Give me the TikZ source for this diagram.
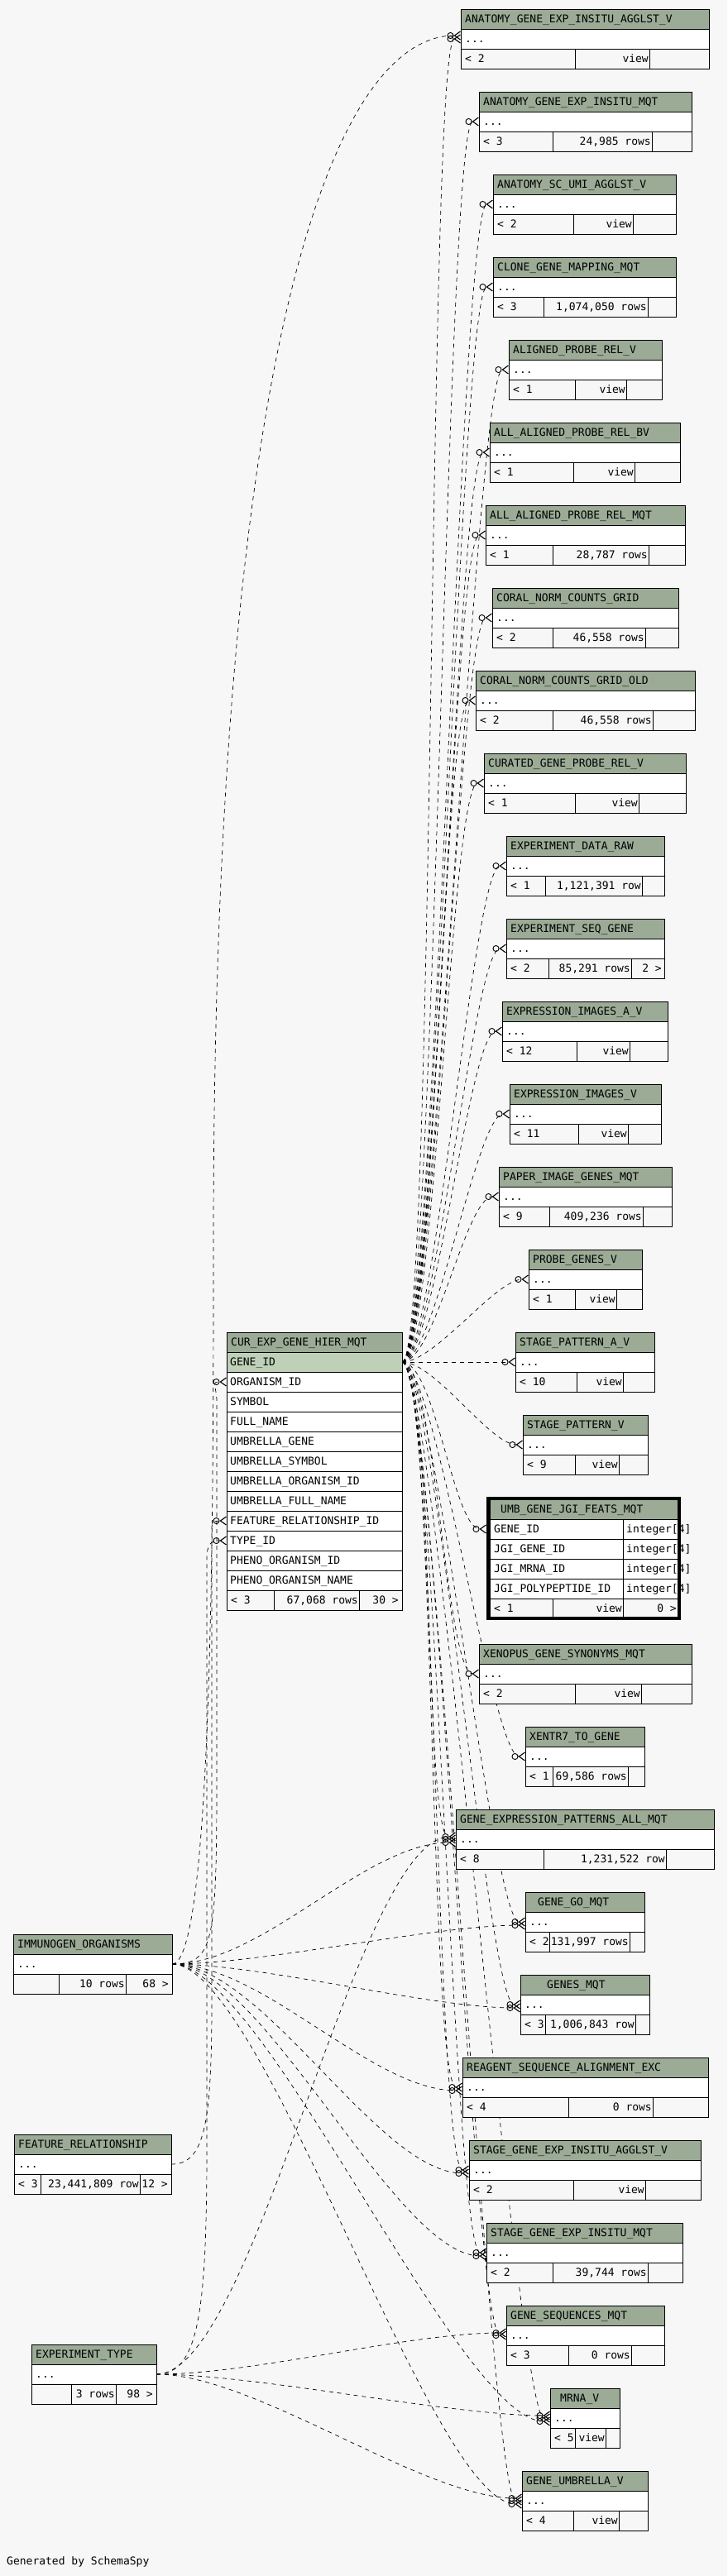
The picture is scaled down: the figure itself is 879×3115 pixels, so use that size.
\documentclass[tikz,border=0pt]{standalone}
\usepackage{fontspec}
\setmonofont{DejaVu Sans Mono}
\usetikzlibrary{arrows.meta}
\pgfdeclarelayer{edgelayer}
\pgfsetlayers{edgelayer,main}

\definecolor{schbg}{HTML}{F7F7F7}
\definecolor{schhead}{HTML}{9BAB96}
\definecolor{schkey}{HTML}{BED1B8}

% table with one "..." row: name, x1, top, x2, title, col1, col2, left text, middle text
\newcommand{\etable}[9]{%
  \filldraw[tbl,fill=schhead] (#2,#3) rectangle (#4,#3+24);
  \filldraw[tbl,fill=white] (#2,#3+24) rectangle (#4,#3+48);
  \filldraw[tbl,fill=schbg] (#2,#3+48) rectangle (#4,#3+72);
  \draw[tbl] (#6,#3+48) -- (#6,#3+72) (#7,#3+48) -- (#7,#3+72);
  \node[txt] (#1-t) at (#2+5,#3+12) {#5};
  \node[txt] (#1-d) at (#2+5,#3+36) {...};
  \node[txt] (#1-l) at (#2+5,#3+60) {#8};
  \node[txt,anchor=east] (#1-m) at (#7-1,#3+60) {#9};
  \coordinate (#1) at (#2,#3+36);
  \coordinate (#1-e) at (#4,#3+36);
}

\begin{document}
\begin{tikzpicture}[x=1pt,y=-1pt,
    txt/.style={anchor=west,inner sep=0pt,font=\ttfamily\fontsize{13}{15}\selectfont,text height=9.5pt,text depth=0pt},
    tbl/.style={line width=0.9pt},
    fk/.style={line width=0.7pt,dash pattern=on 5pt off 5pt,
      -{Circle[open,length=8pt,width=8pt,line width=0.9pt] Straight Barb[reversed,length=7pt,width=10pt,line width=1.1pt]}}]
\useasboundingbox (0,0) rectangle (879,3115);

% tables on the right
\etable{agev}{557}{11}{857}{ANATOMY\_GENE\_EXP\_INSITU\_AGGLST\_V}{695}{785}{< 2}{view}
\etable{agem}{579}{111}{836}{ANATOMY\_GENE\_EXP\_INSITU\_MQT}{668}{788}{< 3}{24,985 rows}
\etable{asuv}{596}{211}{817}{ANATOMY\_SC\_UMI\_AGGLST\_V}{693}{765}{< 2}{view}
\etable{cgmm}{596}{311}{817}{CLONE\_GENE\_MAPPING\_MQT}{657}{783}{< 3}{1,074,050 rows}
\etable{aprv}{615}{411}{800}{ALIGNED\_PROBE\_REL\_V}{695}{757}{< 1}{view}
\etable{aapb}{592}{511}{822}{ALL\_ALIGNED\_PROBE\_REL\_BV}{693}{767}{< 1}{view}
\etable{aapm}{587}{611}{828}{ALL\_ALIGNED\_PROBE\_REL\_MQT}{668}{784}{< 1}{28,787 rows}
\etable{cncg}{595}{711}{820}{CORAL\_NORM\_COUNTS\_GRID}{668}{780}{< 2}{46,558 rows}
\etable{cnco}{575}{811}{840}{CORAL\_NORM\_COUNTS\_GRID\_OLD}{668}{789}{< 2}{46,558 rows}
\etable{cgpr}{585}{911}{829}{CURATED\_GENE\_PROBE\_REL\_V}{695}{772}{< 1}{view}
\etable{edr}{612}{1011}{803}{EXPERIMENT\_DATA\_RAW}{659}{776}{< 1}{1,121,391 row}
\etable{esg}{612}{1111}{803}{EXPERIMENT\_SEQ\_GENE}{663}{763}{< 2}{85,291 rows}
\node[txt,anchor=east] (esg-r) at (800,1171) {2 >};
\etable{eiav}{607}{1211}{807}{EXPRESSION\_IMAGES\_A\_V}{697}{761}{< 12}{view}
\etable{eiv}{616}{1311}{799}{EXPRESSION\_IMAGES\_V}{699}{759}{< 11}{view}
\etable{pigm}{603}{1411}{812}{PAPER\_IMAGE\_GENES\_MQT}{664}{777}{< 9}{409,236 rows}
\etable{pgv}{639}{1511}{776}{PROBE\_GENES\_V}{695}{745}{< 1}{view}
\etable{spav}{623}{1611}{791}{STAGE\_PATTERN\_A\_V}{697}{753}{< 10}{view}
\etable{spv}{632}{1711}{783}{STAGE\_PATTERN\_V}{695}{748}{< 9}{view}
\etable{xgsm}{579}{1988}{836}{XENOPUS\_GENE\_SYNONYMS\_MQT}{695}{775}{< 2}{view}
\etable{x7g}{635}{2088}{779}{XENTR7\_TO\_GENE}{668}{759}{< 1}{69,586 rows}
\etable{gepa}{551}{2188}{863}{GENE\_EXPRESSION\_PATTERNS\_ALL\_MQT}{657}{805}{< 8}{1,231,522 row}
\etable{ggo}{635}{2288}{779}{\hspace*{10pt}GENE\_GO\_MQT}{664}{761}{< 2}{131,997 rows}
\etable{genes}{629}{2388}{785}{\hspace*{27pt}GENES\_MQT}{659}{768}{< 3}{1,006,843 row}
\etable{rsae}{559}{2488}{856}{REAGENT\_SEQUENCE\_ALIGNMENT\_EXC}{687}{789}{< 4}{0 rows}
\etable{sgeav}{567}{2588}{847}{STAGE\_GENE\_EXP\_INSITU\_AGGLST\_V}{693}{780}{< 2}{view}
\etable{sgem}{588}{2688}{825}{STAGE\_GENE\_EXP\_INSITU\_MQT}{668}{783}{< 2}{39,744 rows}
\etable{gsm}{612}{2788}{803}{GENE\_SEQUENCES\_MQT}{687}{763}{< 3}{0 rows}
\etable{mrna}{665}{2888}{749}{\hspace*{7pt}MRNA\_V}{695}{732}{< 5}{view}
\etable{guv}{631}{2988}{783}{GENE\_UMBRELLA\_V}{693}{748}{< 4}{view}

% UMB_GENE_JGI_FEATS_MQT
\filldraw[tbl,fill=schhead] (592,1813) rectangle (821,1837);
\node[txt] (umb-t) at (605,1825) {UMB\_GENE\_JGI\_FEATS\_MQT};
\foreach \c [count=\i] in {GENE\_ID,JGI\_GENE\_ID,JGI\_MRNA\_ID,JGI\_POLYPEPTIDE\_ID} {
  \filldraw[tbl,fill=white] (592,1813+24*\i) rectangle (821,1837+24*\i);
  \draw[tbl] (753,1813+24*\i) -- (753,1837+24*\i);
  \node[txt] (umb-\i) at (597,1825+24*\i) {\c};
  \node[txt] (umb-ty\i) at (757,1825+24*\i) {integer[4]};
}
\filldraw[tbl,fill=schbg] (592,1933) rectangle (821,1957);
\draw[tbl] (668,1933) -- (668,1957) (753,1933) -- (753,1957);
\node[txt] (umb-l) at (597,1945) {< 1};
\node[txt,anchor=east] (umb-m) at (752,1945) {view};
\node[txt,anchor=east] (umb-r) at (818,1945) {0 >};
\draw[line width=4pt] (590,1812) rectangle (821,1957);
\coordinate (umb) at (588,1849);

% CUR_EXP_GENE_HIER_MQT
\filldraw[tbl,fill=schhead] (274,1611) rectangle (486,1635);
\node[txt] (cur-t) at (279,1623) {CUR\_EXP\_GENE\_HIER\_MQT};
\foreach \c [count=\i from 0] in {GENE\_ID,ORGANISM\_ID,SYMBOL,FULL\_NAME,UMBRELLA\_GENE,UMBRELLA\_SYMBOL,UMBRELLA\_ORGANISM\_ID,UMBRELLA\_FULL\_NAME,FEATURE\_RELATIONSHIP\_ID,TYPE\_ID,PHENO\_ORGANISM\_ID,PHENO\_ORGANISM\_NAME} {
  \ifnum\i=0 \def\rowcol{schkey}\else\def\rowcol{white}\fi
  \filldraw[tbl,fill=\rowcol] (274,1635+24*\i) rectangle (486,1659+24*\i);
  \node[txt] (cur-\i) at (278,1647+24*\i) {\c};
}
\filldraw[tbl,fill=schbg] (274,1923) rectangle (486,1947);
\draw[tbl] (331,1923) -- (331,1947) (434,1923) -- (434,1947);
\node[txt] (cur-l) at (279,1935) {< 3};
\node[txt,anchor=east] (cur-m) at (433,1935) {67,068 rows};
\node[txt,anchor=east] (cur-r) at (482,1935) {30 >};
\coordinate (cur-gene) at (486,1647);
\coordinate (cur-org) at (274,1671);
\coordinate (cur-frid) at (274,1839);
\coordinate (cur-type) at (274,1863);

% tables on the left
\etable{imm}{16}{2339}{208}{IMMUNOGEN\_ORGANISMS}{71}{152}{}{10 rows}
\node[txt,anchor=east] (imm-r) at (204,2399) {68 >};
\etable{frel}{17}{2581}{207}{FEATURE\_RELATIONSHIP}{49}{169}{< 3}{23,441,809 row}
\node[txt,anchor=east] (frel-r) at (203,2641) {12 >};
\etable{etype}{38}{2835}{189}{EXPERIMENT\_TYPE}{86}{140}{}{3 rows}
\node[txt,anchor=east] (etype-r) at (185,2895) {98 >};

\node[txt] (gen) at (8,3097) {Generated by SchemaSpy};

\begin{pgfonlayer}{edgelayer}
\fill[schbg] (0,0) rectangle (879,3115);
% GENE_ID to every child
\foreach \t in {agev,agem,asuv,cgmm,aprv,aapb,aapm,cncg,cnco,cgpr,edr,esg,eiav,eiv,pigm,pgv,spav,spv,umb,xgsm,x7g,gepa,ggo,genes,rsae,sgeav,sgem,gsm,mrna,guv}
  \draw[fk] (cur-gene) .. controls +(40,0) and +(-40,0) .. (\t);
% organisms
\foreach \t in {gepa,ggo,genes,rsae,sgeav,sgem,mrna,guv}
  \draw[fk] (imm-e) .. controls +(110,0) and +(-110,0) .. ([yshift=-4pt]\t);
\draw[fk] (imm-e) .. controls +(50,0) and +(0,300) .. (258,1500) .. controls +(0,-1100) and +(-150,0) .. ([yshift=4pt]agev);
\draw[fk] (imm-e) .. controls +(50,0) and +(0,200) .. (262,2150) -- (262,1695) .. controls +(0,-20) and +(-20,0) .. (cur-org);
% feature relationship
\draw[fk] (frel-e) .. controls +(40,0) and +(0,150) .. (256,2420) -- (256,1863) .. controls +(0,-20) and +(-20,0) .. (cur-frid);
% experiment type
\draw[fk] (etype-e) .. controls +(50,0) and +(0,200) .. (250,2600) -- (250,1887) .. controls +(0,-20) and +(-20,0) .. (cur-type);
\foreach \t in {gepa,gsm,mrna,guv}
  \draw[fk] (etype-e) .. controls +(120,0) and +(-120,0) .. ([yshift=3pt]\t);
\end{pgfonlayer}
\end{tikzpicture}
\end{document}
